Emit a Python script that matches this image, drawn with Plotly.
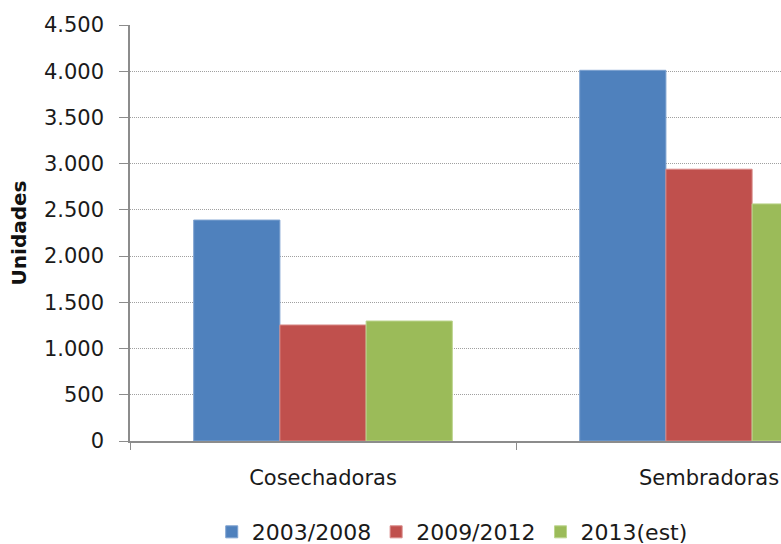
import plotly.graph_objects as go

categories = ["Cosechadoras", "Sembradoras"]
series_names = ["2003/2008", "2009/2012", "2013(est)"]
v_2003_2008 = [2390, 4010]
v_2009_2012 = [1255, 2940]
v_2013_est = [1298, 2565]
y_ticks = [0, 500, 1000, 1500, 2000, 2500, 3000, 3500, 4000, 4500]

colors = ["#4F81BD", "#C0504D", "#9BBB59"]
edge = ["#7EA2D0", "#D88A88", "#BCD58E"]
values = [v_2003_2008, v_2009_2012, v_2013_est]

FONT = "DejaVu Sans"

fig = go.Figure()
for name, vals, c, e in zip(series_names, values, colors, edge):
    fig.add_trace(go.Bar(
        x=categories, y=vals, name=name,
        marker=dict(color=c, line=dict(color=e, width=1)),
    ))

fig.update_layout(
    width=781, height=544,
    margin=dict(l=130, r=0, t=25, b=103, autoexpand=False),
    paper_bgcolor="white", plot_bgcolor="white",
    barmode="group", bargap=0.33, bargroupgap=0,
    separators=",.",
    font=dict(family=FONT, size=21, color="#1a1a1a"),
    showlegend=True,
    legend=dict(orientation="h", x=0.495, xanchor="center",
                yref="container", y=0.022, yanchor="middle",
                font=dict(size=22, color="#1a1a1a"), itemwidth=30, traceorder="normal"),
    xaxis=dict(
        range=[-0.5, 1.1865], showgrid=False, zeroline=False, automargin=False,
        showline=True, linecolor="#8c8c8c", linewidth=1.5,
        ticks="outside", tickson="boundaries", ticklen=7, tickcolor="#8c8c8c",
        tickfont=dict(size=21), ticklabelstandoff=17,
    ),
    yaxis=dict(
        range=[0, 4500], tickvals=y_ticks, tickformat=",d", automargin=False,
        showgrid=True, gridcolor="#a0a0a0", griddash="1px,1px", gridwidth=1,
        zeroline=False, showline=True, linecolor="#8c8c8c", linewidth=1.5,
        ticks="outside", ticklen=9, tickcolor="#8c8c8c",
        tickfont=dict(size=21), ticklabelstandoff=11,
        title=dict(text="<b>Unidades</b>", font=dict(size=20, color="#111"), standoff=12),
    ),
)

fig.write_html("out.html")
